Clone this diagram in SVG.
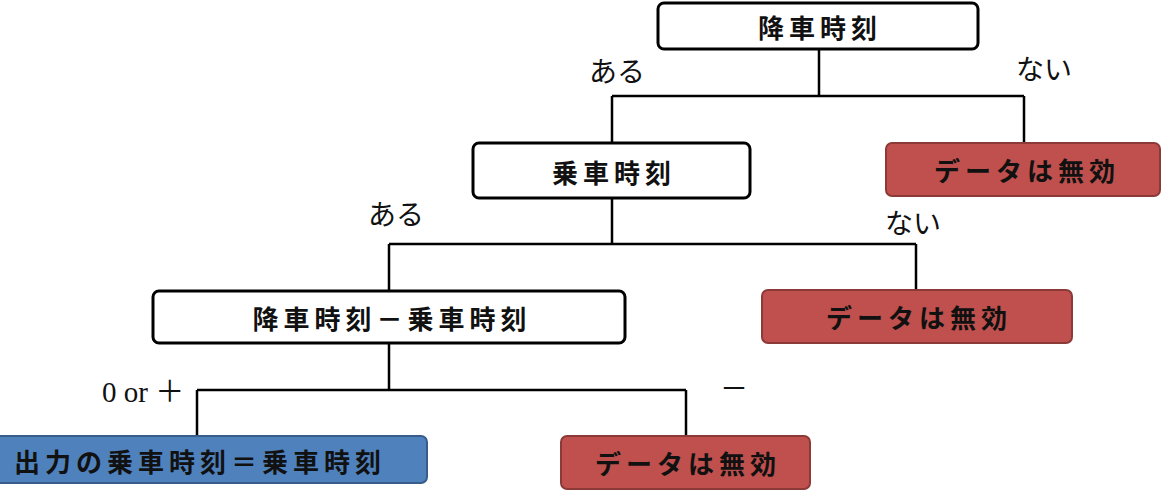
<svg xmlns="http://www.w3.org/2000/svg" width="1164" height="495" viewBox="0 0 1164 495">
<style>
.box{fill:#ffffff;stroke:#000000;stroke-width:3}
.red{fill:#c0504d;stroke:#8c3a38;stroke-width:2}
.blue{fill:#4f81bd;stroke:#385d8a;stroke-width:2}
.t{font-family:"Noto Sans CJK JP","Noto Sans",sans-serif;font-weight:bold;font-size:26px;letter-spacing:5px;fill:#111;text-anchor:middle;dominant-baseline:central}
.lbl{font-family:"Noto Sans CJK JP",sans-serif;font-size:28px;fill:#111}
.num{font-family:"Liberation Serif","Noto Sans CJK JP",serif;font-size:29px;fill:#111}
.c{fill:none;stroke:#000;stroke-width:2.5}
</style>
<rect width="1164" height="495" fill="#ffffff"/>
<g id="connectors">
<path class="c" d="M819 49V96M612 96H1024M612 96V143M1024 96V143"/>
<path class="c" d="M612 198V244M389 244H916M389 244V291M916 244V290"/>
<path class="c" d="M389 343V390M197 390H686M197 390V436M686 390V436"/>
</g>
<g id="n1"><rect class="box" x="658" y="3" width="320" height="46" rx="6"/><text class="t" x="820" y="26">降車時刻</text></g>
<g id="n2"><rect class="box" x="473" y="143" width="277" height="55" rx="6"/><text class="t" x="614" y="171">乗車時刻</text></g>
<g id="n3"><rect class="red" x="886" y="143" width="274" height="53" rx="6"/><text class="t" x="1027" y="169">データは無効</text></g>
<g id="n4"><rect class="box" x="153" y="291" width="472" height="52" rx="6"/><text class="t" x="392" y="317">降車時刻－乗車時刻</text></g>
<g id="n5"><rect class="red" x="762" y="290" width="310" height="53" rx="6"/><text class="t" x="919" y="316">データは無効</text></g>
<g id="n6"><rect class="blue" x="-6" y="436" width="433" height="47" rx="6"/><text class="t" x="200" y="460">出力の乗車時刻＝乗車時刻</text></g>
<g id="n7"><rect class="red" x="561" y="436" width="249" height="53" rx="6"/><text class="t" x="688" y="462">データは無効</text></g>
<g id="labels">
<text class="lbl" x="589" y="82">ある</text>
<text class="lbl" x="1016" y="80">ない</text>
<text class="lbl" x="368" y="225">ある</text>
<text class="lbl" x="885" y="234">ない</text>
<text class="num" x="102" y="402">0 or ＋</text>
<text class="lbl" x="720" y="399">－</text>
</g>
</svg>
